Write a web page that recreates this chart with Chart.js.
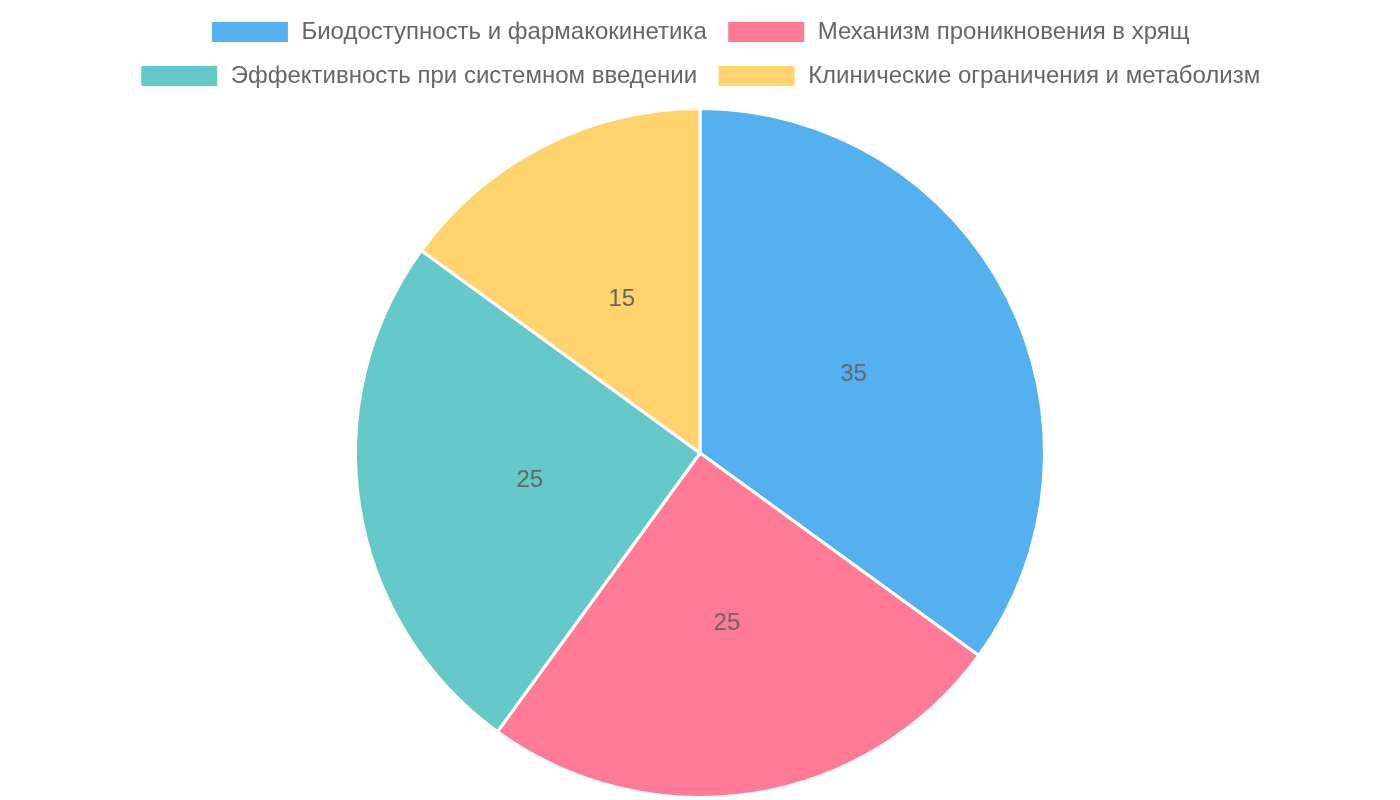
<!DOCTYPE html>
<html>
<head>
<meta charset="utf-8">
<script src="https://cdn.jsdelivr.net/npm/chart.js@4"></script>
<style>
  html, body { margin: 0; padding: 0; background: #fff; }
  #wrap { width: 1400px; height: 800px; }
</style>
</head>
<body>
<div id="wrap"><canvas id="myChart"></canvas></div>
<script>
// Categories and values
const labels = [
    'Биодоступность и фармакокинетика',
    'Механизм проникновения в хрящ',
    'Эффективность при системном введении',
    'Клинические ограничения и метаболизм'
];
const values = [35, 25, 25, 15];
const colors = [
    'rgba(54, 162, 235, 0.85)',
    'rgba(255, 99, 132, 0.85)',
    'rgba(75, 192, 192, 0.85)',
    'rgba(255, 205, 86, 0.85)'
];

Chart.defaults.font.family = '"Liberation Sans", Arial, sans-serif';
Chart.defaults.color = '#666';

// Simple plugin to print the value in the middle of each slice
const sliceLabels = {
    id: 'sliceLabels',
    afterDatasetsDraw(chart) {
        const ctx = chart.ctx;
        const meta = chart.getDatasetMeta(0);
        ctx.save();
        ctx.font = '24px "Liberation Sans", Arial, sans-serif';
        ctx.fillStyle = '#666';
        ctx.textAlign = 'center';
        ctx.textBaseline = 'middle';
        meta.data.forEach((arc, i) => {
            const p = arc.getCenterPoint();
            ctx.fillText(String(values[i]), p.x, p.y);
        });
        ctx.restore();
    }
};

// Adds a little space under the legend
const legendGap = {
    id: 'legendGap',
    beforeInit(chart) {
        const origFit = chart.legend.fit;
        chart.legend.fit = function () {
            origFit.bind(chart.legend)();
            this.height += 9;
        };
    }
};

const myChart = new Chart(document.getElementById('myChart'), {
    type: 'pie',
    data: {
        labels: labels,
        datasets: [{
            data: values,
            backgroundColor: colors,
            borderColor: '#ffffff',
            borderWidth: 3
        }]
    },
    options: {
        responsive: true,
        maintainAspectRatio: false,
        animation: false,
        layout: { padding: { bottom: 1 } },
        plugins: {
            legend: {
                position: 'top',
                labels: {
                    boxWidth: 79,
                    boxHeight: 23,
                    padding: 20,
                    font: { size: 24 },
                    color: '#666'
                }
            },
            tooltip: { enabled: false }
        }
    },
    plugins: [legendGap, sliceLabels]
});
</script>
</body>
</html>
